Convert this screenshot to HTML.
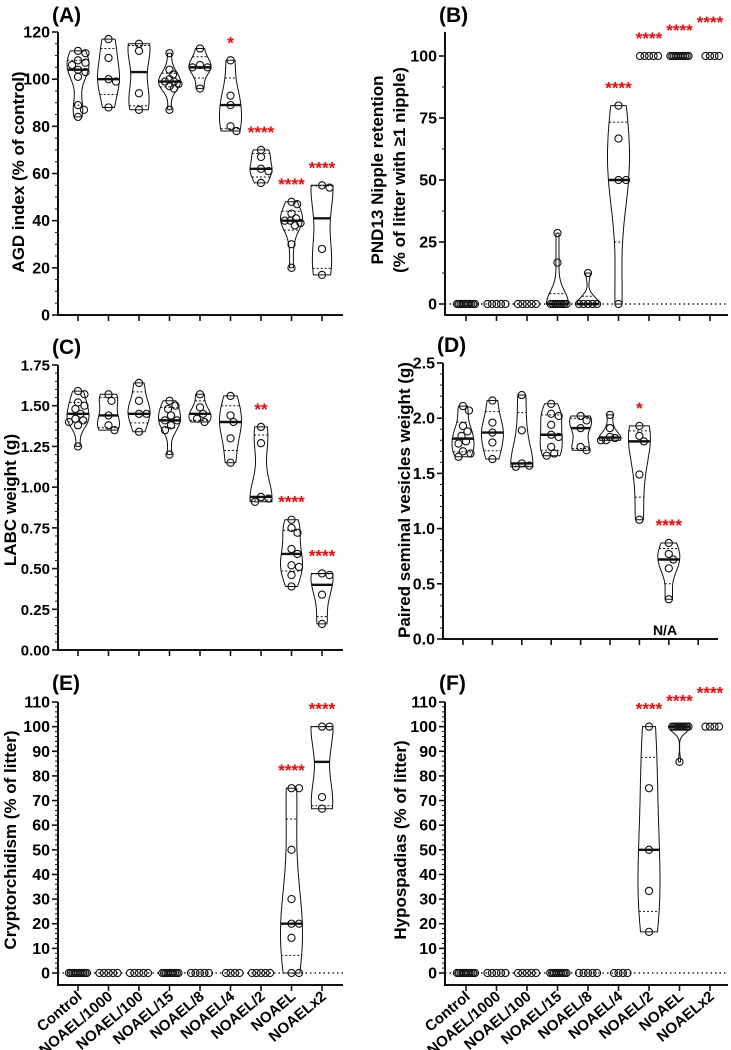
<!DOCTYPE html>
<html><head><meta charset="utf-8"><style>
html,body{margin:0;padding:0;background:#fff;}
svg{display:block;font-family:"Liberation Sans",Arial,sans-serif;}
</style></head><body>
<svg id="fig" width="731" height="1050" viewBox="0 0 731 1050"></svg>
<script>
const groups = ["Control","NOAEL/1000","NOAEL/100","NOAEL/15","NOAEL/8","NOAEL/4","NOAEL/2","NOAEL","NOAELx2"];
function z(n){return Array(n).fill(0);}
function h(n){return Array(n).fill(100);}
const dataA = [[112,111,108,107,106,104,103,101,89,87,84],[117,109,100,99,88],[115,112,94,87],[111,104,102,100,99,98,97,96,99,87],[113,106,105,105,96],[108,93,89,80,78],[70,67,62,61,56],[48,47,43,41,40,39,38,40,30,20],[55,54,28,17]];
const dataB = [z(11),z(5),z(5),[28.6,16.7].concat(z(8)),[12.5].concat(z(5)),[80,66.7,50,50,0],h(5),h(11),h(4)];
const dataC = [[1.59,1.57,1.52,1.50,1.48,1.42,1.41,1.40,1.38,1.25,1.45],[1.57,1.53,1.44,1.38,1.35],[1.64,1.53,1.45,1.45,1.34],[1.53,1.50,1.48,1.44,1.41,1.38,1.35,1.20,1.41],[1.57,1.49,1.45,1.42,1.40],[1.56,1.44,1.40,1.30,1.15],[1.37,1.27,0.94,0.93,0.91],[0.80,0.75,0.72,0.62,0.59,0.51,0.52,0.46,0.39],[0.47,0.46,0.34,0.16]];
const dataD = [[2.11,2.07,1.93,1.88,1.84,1.79,1.77,1.70,1.68,1.65],[2.16,1.96,1.87,1.78,1.63],[2.21,1.89,1.59,1.57,1.56],[2.13,2.04,2.02,1.94,1.85,1.83,1.74,1.68,1.66],[2.02,1.98,1.91,1.74,1.71],[2.03,1.91,1.83,1.82,1.80,1.80],[1.93,1.84,1.79,1.49,1.08],[0.87,0.77,0.72,0.64,0.36],[]];
const dataE = [z(11),z(5),z(5),z(10),z(5),z(4),z(5),[75,75,50,30,20,20,14.3,0,0],[100,100,71.4,66.7]];
const dataF = [z(11),z(5),z(5),z(10),z(5),z(4),[100,75,50,33.3,16.7],h(10).concat([85.7]),h(4)];
const starsA = ["","","","","","*","****","****","****"];
const starsB = ["","","","","","****","****","****","****"];
const starsC = ["","","","","","","**","****","****"];
const starsD = ["","","","","","","*","****",""];
const starsE = ["","","","","","","","****","****"];
const starsF = ["","","","","","","****","****","****"];
const ticksA=[0,20,40,60,80,100,120], ticksB=[0,25,50,75,100], ticksC=[0,0.25,0.5,0.75,1,1.25,1.5,1.75], ticksD=[0,0.5,1,1.5,2,2.5], ticksE=[0,10,20,30,40,50,60,70,80,90,100,110];
const tickLabC=["0.00","0.25","0.50","0.75","1.00","1.25","1.50","1.75"], tickLabD=["0.0","0.5","1.0","1.5","2.0","2.5"];

const NS="http://www.w3.org/2000/svg";
const svg=document.getElementById('fig');
function el(tag,attrs,parent){const e=document.createElementNS(NS,tag);for(const k in attrs)e.setAttribute(k,attrs[k]);(parent||svg).appendChild(e);return e;}
function quant(s,p){const a=s.slice().sort((x,y)=>x-y);const pos=(a.length+1)*p-1;const lo=Math.max(0,Math.min(a.length-1,Math.floor(pos)));const hi=Math.max(0,Math.min(a.length-1,Math.ceil(pos)));return a[lo]+(a[hi]-a[lo])*(pos-Math.floor(pos));}

function panel(cfg){
  const g=el('g',{});
  
  
  const y=v=>cfg.y0-(v-cfg.vmin)/(cfg.vmax-cfg.vmin)*(cfg.y0-cfg.ytop);
  const x=i=>cfg.x0+i*cfg.dx;
  const axTop=cfg.axTop||cfg.ytop;
  const L=el('text',{x:cfg.ax-6,y:cfg.letterY,'font-size':21,'font-weight':'bold'},g);L.textContent='('+cfg.id+')';
  
  
  const ax=el('path',{d:`M${cfg.ax},${axTop}V${cfg.axisY}H${cfg.axEnd}`,stroke:'#111','stroke-width':2,fill:'none'},g);
  
  
  for(let v=cfg.vmin;v<=cfg.vmax+1e-9;v+=cfg.minor){el('line',{x1:cfg.ax-3,x2:cfg.ax,y1:y(v),y2:y(v),stroke:'#111','stroke-width':1},g);}
  cfg.ticks.forEach((v,k)=>{
    el('line',{x1:cfg.ax-6,x2:cfg.ax,y1:y(v),y2:y(v),stroke:'#111','stroke-width':1.6},g);
    const t=el('text',{x:cfg.ax-8,y:y(v)+5.5,'text-anchor':'end','font-size':cfg.tickFont||16,'font-weight':'bold'},g);
    t.textContent=cfg.tickLab?cfg.tickLab[k]:String(v);
    
    
  });
  cfg.title.forEach((s,k)=>{
    const t=el('text',{transform:`translate(${cfg.titleX+k*22},${cfg.titleY}) rotate(-90)`,'text-anchor':'middle','font-size':17,'font-weight':'bold'},g);
    t.textContent=s;
    
    
  });
  if(cfg.zeroLine){el('line',{x1:cfg.ax,x2:cfg.axEnd,y1:y(0),y2:y(0),stroke:'#222','stroke-width':1.5,'stroke-dasharray':'1.5,3'},g);}
  groups.forEach((name,i)=>{
    const cx=x(i);
    el('line',{x1:cx,x2:cx,y1:cfg.axisY,y2:cfg.axisY+6,stroke:'#111','stroke-width':1.6},g);
    if(cfg.xlabels){
      const t=el('text',{transform:`translate(${cx+5},${cfg.axisY+13}) rotate(-40)`,'text-anchor':'end','font-size':15,'font-weight':'bold'},g);
      t.textContent=name;
      
      
    }
    const d=cfg.data[i];
    const gg=el('g',{},g);
    
    
    if(d.length){
      const mn=Math.min(...d),mx=Math.max(...d);
      const ys=d.map(y);
      if(mx>mn){
        const mean=ys.reduce((a,b)=>a+b)/ys.length;
        const sd=Math.sqrt(ys.reduce((s,v)=>s+(v-mean)**2,0)/ys.length)||1;
        const bw=Math.max(4,0.9*sd*Math.pow(ys.length,-0.2));
        const top=y(mx),bot=y(mn),steps=40;
        let dmax=0;const dens=[];
        for(let s=0;s<=steps;s++){const yy=top+(bot-top)*s/steps;let dd=0;ys.forEach(v=>{dd+=Math.exp(-0.5*((yy-v)/bw)**2);});dens.push([yy,dd]);dmax=Math.max(dmax,dd);}
        const W=cfg.vw;
        const hw=yy=>{let best=dens[0];dens.forEach(p=>{if(Math.abs(p[0]-yy)<Math.abs(best[0]-yy))best=p;});return Math.max(1,W*best[1]/dmax);};
        let dp='';dens.forEach((p,k)=>{dp+=(k?'L':'M')+(cx+W*p[1]/dmax).toFixed(1)+','+p[0].toFixed(1);});
        for(let k=dens.length-1;k>=0;k--){const p=dens[k];dp+='L'+(cx-W*p[1]/dmax).toFixed(1)+','+p[0].toFixed(1);}
        el('path',{d:dp+'Z',fill:'#fff',stroke:'#111','stroke-width':1},gg);
        [0.25,0.75].forEach(q=>{const yy=y(quant(d,q));const w=hw(yy);el('line',{x1:cx-w,x2:cx+w,y1:yy,y2:yy,stroke:'#111','stroke-width':1,'stroke-dasharray':'2,2'},gg);});
        const ym=y(quant(d,0.5));const w=hw(ym);el('line',{x1:cx-w,x2:cx+w,y1:ym,y2:ym,stroke:'#111','stroke-width':2.4},gg);
      }
      const r=3.6,order=d.map((v,k)=>[v,k]).sort((a,b)=>b[0]-a[0]);const placed=[];
      order.forEach(([v])=>{const py=y(v);let off=0;
        for(let s=0;s<60;s++){const o=(s%2?1:-1)*Math.ceil(s/2)*1.5;if(placed.every(p=>Math.hypot(p[0]-o,p[1]-py)>=2*r*0.95)){off=o;break;}}
        placed.push([off,py]);});
      const m=Math.max(...placed.map(p=>Math.abs(p[0])));const sc=m>cfg.spread?cfg.spread/m:1;
      placed.forEach(p=>{const c=el('circle',{cx:cx+p[0]*sc,cy:p[1],r:r,fill:'none',stroke:'#111','stroke-width':1.1},gg);
        
        });
      if(cfg.stars[i]){const extra=cfg.starExtra?cfg.starExtra[i]:0;
        const t=el('text',{x:cx,y:y(mx)-cfg.starOff-extra,'text-anchor':'middle','font-size':17,'font-weight':'bold',fill:'#f00'},g);t.textContent=cfg.stars[i];
        
        }
    }
  });
}
const colA={ax:58,x0:78,dx:30.5,axEnd:343}, colB={ax:445,x0:466,dx:30.5,axEnd:728};
panel(Object.assign({id:'A',data:dataA,stars:starsA,vmin:0,vmax:120,y0:315,ytop:32,axisY:315,ticks:ticksA,minor:5,title:['AGD index (% of control)'],titleX:24,titleY:172,vw:11,spread:9,starOff:12,letterY:22},colA));
panel(Object.assign({id:'B',data:dataB,stars:starsB,vmin:0,vmax:100,y0:304,ytop:56,axTop:32,axisY:315,ticks:ticksB,minor:12.5,zeroLine:true,title:['PND13 Nipple retention','(% of litter with ≥1 nipple)'],titleX:383,titleY:170,vw:11,spread:9,starOff:12,starExtra:[0,0,0,0,0,0,0,8,16],letterY:22},colB));
panel(Object.assign({id:'C',data:dataC,stars:starsC,vmin:0,vmax:1.75,y0:650,ytop:365,axisY:650,ticks:ticksC,tickLab:tickLabC,tickFont:15,minor:0.05,title:['LABC weight (g)'],titleX:16,titleY:500,vw:11,spread:9,starOff:12,letterY:354},colA));
panel(Object.assign({id:'D',data:dataD,stars:starsD,vmin:0,vmax:2.5,y0:639,ytop:363,axisY:639,ticks:ticksD,tickLab:tickLabD,minor:0.1,title:['Paired seminal vesicles weight (g)'],titleX:410,titleY:500,vw:11,spread:9,starOff:12,letterY:352},{ax:443,x0:463,dx:29.4,axEnd:718}));
panel(Object.assign({id:'E',data:dataE,stars:starsE,vmin:0,vmax:110,y0:973,ytop:702,axisY:985,ticks:ticksE,minor:2,zeroLine:true,xlabels:true,title:['Cryptorchidism (% of litter)'],titleX:16,titleY:840,vw:11,spread:9,starOff:12,letterY:690},colA));
panel(Object.assign({id:'F',data:dataF,stars:starsF,vmin:0,vmax:110,y0:973,ytop:702,axisY:985,ticks:ticksE,minor:2,zeroLine:true,xlabels:true,title:['Hypospadias (% of litter)'],titleX:406,titleY:840,vw:11,spread:9,starOff:12,starExtra:[0,0,0,0,0,0,0,8,16],letterY:690},colB));
const na=document.createElementNS(NS,'text');na.setAttribute('x',665);na.setAttribute('y',635);na.setAttribute('font-size',14);na.setAttribute('font-weight','bold');na.setAttribute('text-anchor','middle');na.textContent='N/A';


svg.appendChild(na);
</script>
</body></html>
